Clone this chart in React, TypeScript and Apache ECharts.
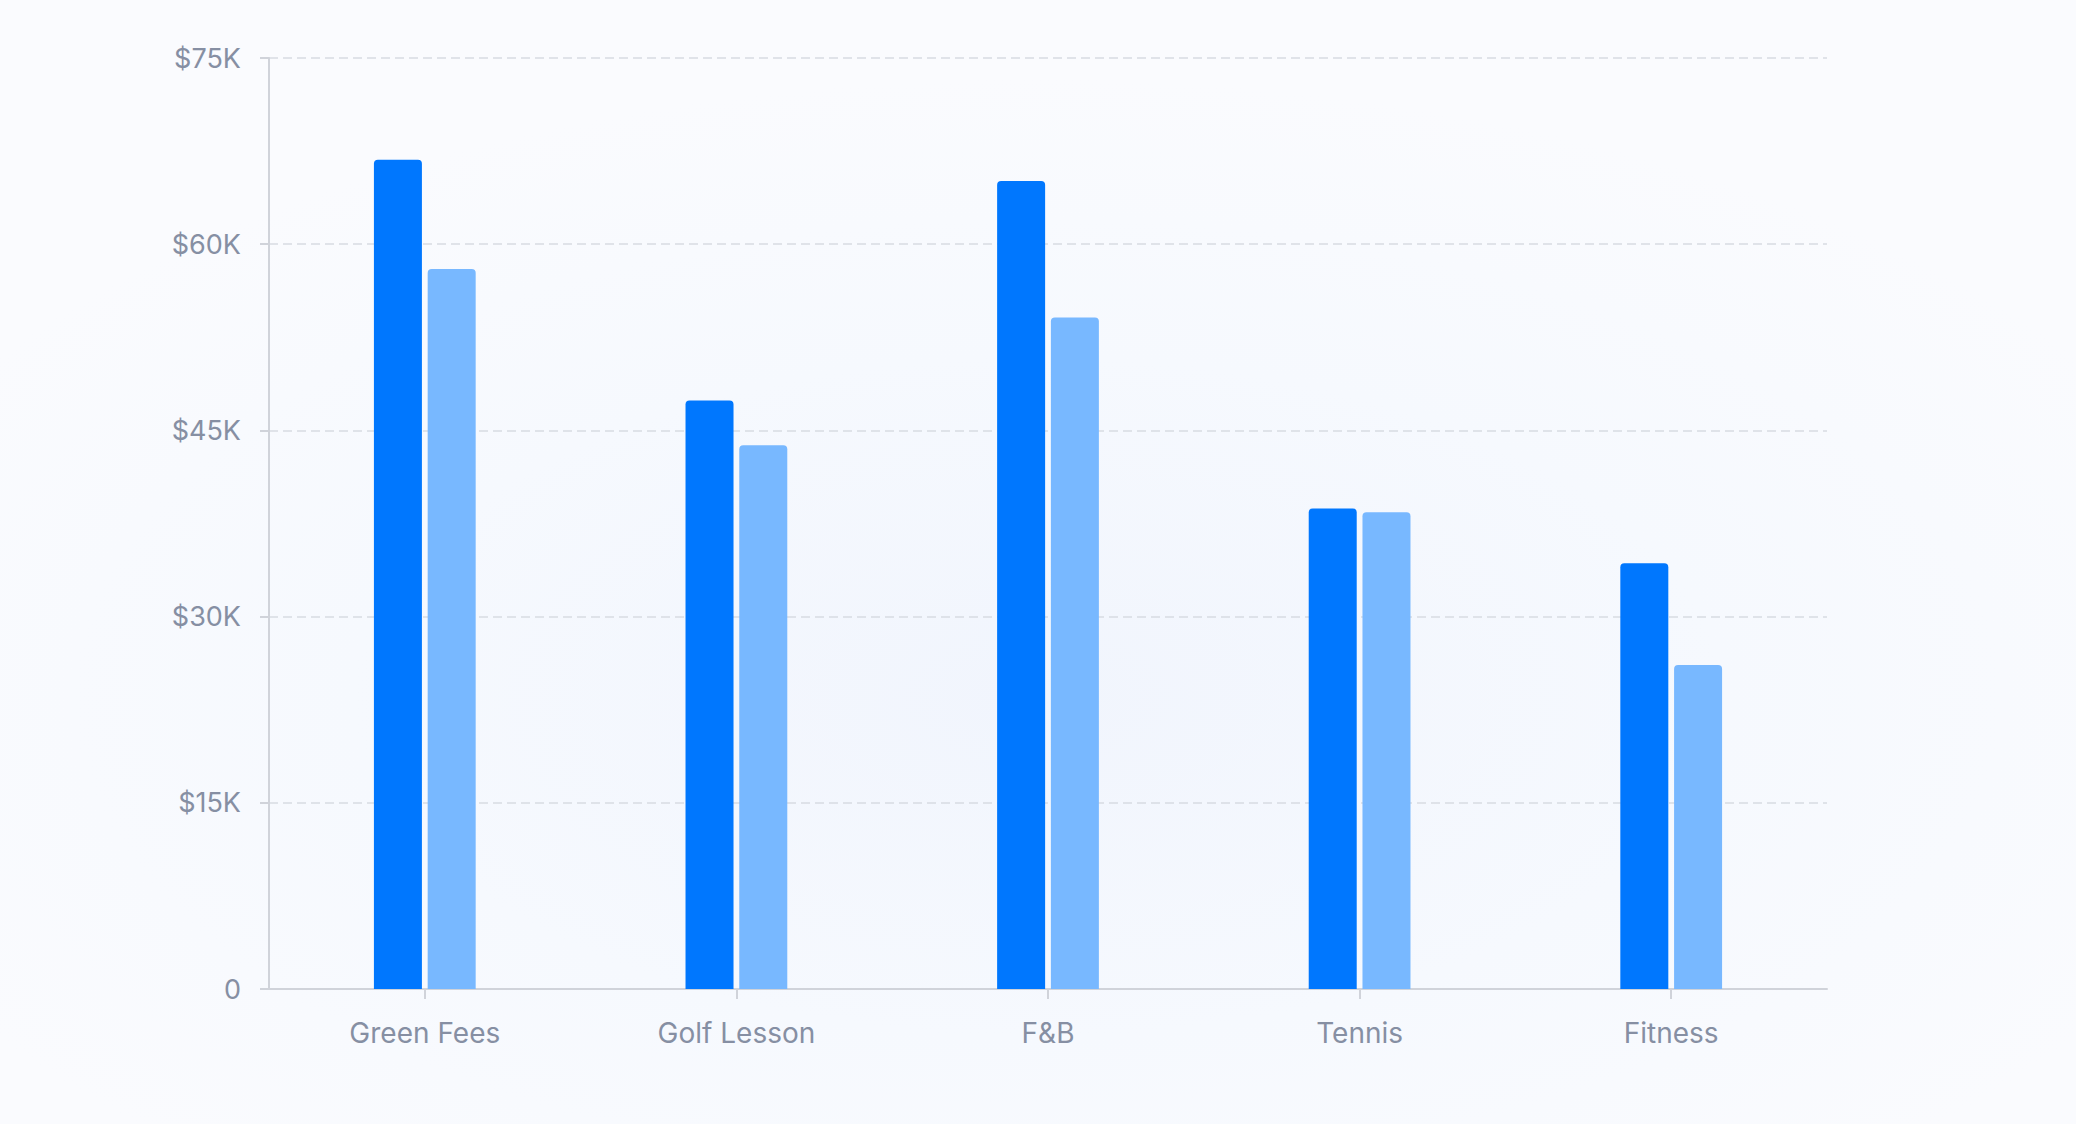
import React, { useEffect, useRef } from "react";
import * as echarts from "echarts";

const categories = ["Green Fees", "Golf Lesson", "F&B", "Tennis", "Fitness"];
const seriesA = [66800, 47400, 65100, 38700, 34300];
const seriesB = [58000, 43800, 54100, 38400, 26100];
const yTicks = [0, 15000, 30000, 45000, 60000, 75000];

export default function App() {
  const ref = useRef<HTMLDivElement>(null);
  useEffect(() => {
    document.body.style.margin = "0";
    const chart = echarts.init(ref.current!, undefined, { renderer: "svg" });
    const font = "Inter, 'Noto Sans', sans-serif";
    chart.setOption({
      animation: false,
      grid: { left: 269, right: 249, top: 58, bottom: 135, containLabel: false },
      xAxis: {
        type: "category",
        data: categories,
        axisLine: { show: true, lineStyle: { color: "#d0d3da", width: 2 } },
        axisTick: { show: true, alignWithLabel: true, length: 10, lineStyle: { color: "#d0d3da", width: 2 } },
        axisLabel: { color: "#868fa3", fontSize: 28, fontFamily: font, margin: 30 },
        splitLine: { show: false },
      },
      yAxis: {
        type: "value",
        min: yTicks[0],
        max: yTicks[yTicks.length - 1],
        interval: 15000,
        axisLine: { show: true, lineStyle: { color: "#d0d3da", width: 2 } },
        axisTick: { show: true, length: 9, lineStyle: { color: "#d0d3da", width: 2 } },
        axisLabel: {
          color: "#868fa3",
          fontSize: 27,
          fontFamily: font,
          margin: 28,
          formatter: (v: number) => (v === 0 ? "0" : "$" + v / 1000 + "K"),
        },
        splitLine: { show: true, lineStyle: { color: "#d8dbe2", width: 1.5, type: [9, 5] } },
      },
      series: [
        {
          type: "bar",
          data: seriesA,
          barWidth: 48,
          barGap: "12%",
          itemStyle: { color: "#0077fe", borderRadius: [4, 4, 0, 0] },
        },
        {
          type: "bar",
          data: seriesB,
          barWidth: 48,
          itemStyle: { color: "#78b8ff", borderRadius: [4, 4, 0, 0] },
        },
      ],
    });
    return () => chart.dispose();
  }, []);
  return (
    <div
      style={{
        width: 2076,
        height: 1124,
        background:
          "radial-gradient(ellipse 60% 55% at 50% 62%, #f1f5fd 0%, #f6f9fe 55%, #fafbfe 100%)",
      }}
    >
      <div ref={ref} style={{ width: 2076, height: 1124 }} />
    </div>
  );
}
